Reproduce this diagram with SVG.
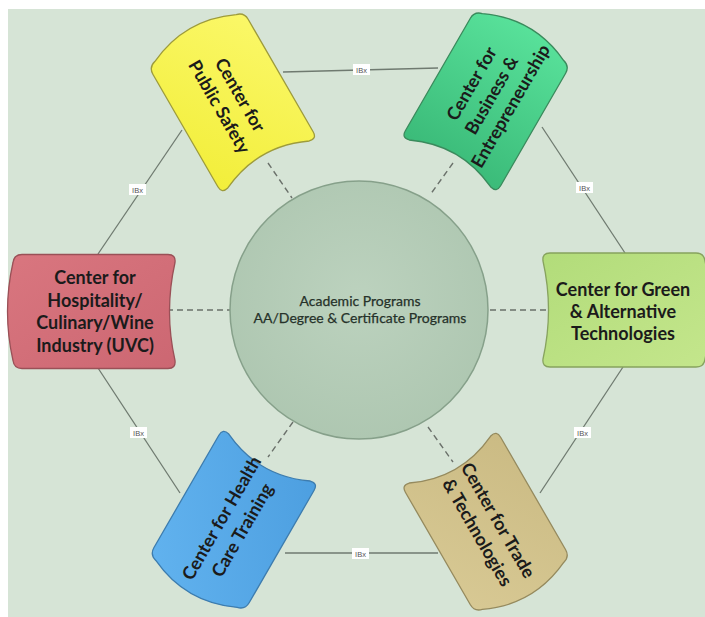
<svg xmlns="http://www.w3.org/2000/svg" width="705" height="617" viewBox="0 0 705 617">
<defs>
<style>
.bg{fill:#d6e4d6}
.lnk{stroke:#6f7a70;stroke-width:1.3;fill:none}
.dsh{stroke:#6a706a;stroke-width:1.4;stroke-dasharray:6 4;fill:none}
.ibx rect{fill:#ffffff;stroke:none}
.ibx text{font-family:"Liberation Sans",Arial,sans-serif;font-size:7.5px;fill:#555;text-anchor:middle}
.nt{font-family:Lato,"Open Sans",sans-serif;font-weight:bold;font-size:18px;fill:#1b1b1b;text-anchor:middle}
.ct{font-family:Lato,"Open Sans",sans-serif;font-size:14px;fill:#26322a;stroke:#26322a;stroke-width:0.25;text-anchor:middle}
.shape{stroke-width:1.3}
</style>
<linearGradient id="gY" x1="0" y1="0" x2="1" y2="1"><stop offset="0" stop-color="#fbf86a"/><stop offset="1" stop-color="#f2ee3a"/></linearGradient>
<linearGradient id="gB" x1="0" y1="0" x2="1" y2="0"><stop offset="0" stop-color="#58e19a"/><stop offset="1" stop-color="#3bbb79"/></linearGradient>
<linearGradient id="gL" x1="0" y1="0" x2="1" y2="1"><stop offset="0" stop-color="#c4e68c"/><stop offset="1" stop-color="#b2dc7a"/></linearGradient>
<linearGradient id="gR" x1="0" y1="0" x2="1" y2="1"><stop offset="0" stop-color="#d9767f"/><stop offset="1" stop-color="#cc6772"/></linearGradient>
<linearGradient id="gT" x1="0" y1="0" x2="1" y2="1"><stop offset="0" stop-color="#d8c994"/><stop offset="1" stop-color="#cbbb84"/></linearGradient>
<linearGradient id="gH" x1="0" y1="0" x2="1" y2="1"><stop offset="0" stop-color="#62b3ef"/><stop offset="1" stop-color="#4d9fe0"/></linearGradient>
<radialGradient id="gC" cx="0.5" cy="0.45" r="0.6"><stop offset="0" stop-color="#bcd2be"/><stop offset="1" stop-color="#adc6b0"/></radialGradient>
<path id="diag" d="M -65,-55 L 65,-55 Q 73,-55 71,-47 Q 49,0 71,47 Q 73,55 65,55 L -65,55 Q -73,55 -75,47 Q -97,0 -75,-47 Q -73,-55 -65,-55 Z"/>
<path id="horiz" d="M -73,-57 L 73,-57 Q 81,-57 80,-49 Q 69,0 80,49 Q 81,57 73,57 L -73,57 Q -81,57 -82,49 Q -93,0 -82,-49 Q -81,-57 -73,-57 Z"/>
</defs>
<rect x="0" y="0" width="705" height="617" fill="#ffffff"/>
<rect class="bg" x="8" y="9" width="697" height="608"/>

<g id="connectors">
<line class="lnk" x1="283" y1="72" x2="438" y2="68"/>
<line class="lnk" x1="542" y1="127" x2="625" y2="253"/>
<line class="lnk" x1="623" y1="367" x2="540" y2="493"/>
<line class="lnk" x1="285" y1="553" x2="438" y2="553"/>
<line class="lnk" x1="180" y1="493" x2="98" y2="368"/>
<line class="lnk" x1="98" y1="254" x2="182" y2="130"/>
<line class="dsh" x1="268" y1="163" x2="292" y2="198"/>
<line class="dsh" x1="453" y1="163" x2="430" y2="195"/>
<line class="dsh" x1="167" y1="310" x2="230" y2="310"/>
<line class="dsh" x1="490" y1="310" x2="553" y2="310"/>
<line class="dsh" x1="293" y1="422" x2="268" y2="457"/>
<line class="dsh" x1="428" y1="427" x2="453" y2="462"/>
<g class="ibx"><rect x="353" y="64" width="17" height="11"/><text x="361.5" y="72.5">IBx</text></g>
<g class="ibx"><rect x="576" y="182" width="17" height="11"/><text x="584.5" y="190.5">IBx</text></g>
<g class="ibx"><rect x="574" y="427" width="17" height="11"/><text x="582.5" y="435.5">IBx</text></g>
<g class="ibx"><rect x="352" y="548" width="17" height="11"/><text x="360.5" y="556.5">IBx</text></g>
<g class="ibx"><rect x="130" y="427" width="17" height="11"/><text x="138.5" y="435.5">IBx</text></g>
<g class="ibx"><rect x="129" y="184" width="17" height="11"/><text x="137.5" y="192.5">IBx</text></g>
</g>

<g id="center">
<circle cx="359" cy="310" r="129" fill="url(#gC)" stroke="#86a08a" stroke-width="1.5"/>
<text class="ct" x="360" y="306">Academic Programs</text>
<text class="ct" x="360" y="323">AA/Degree &amp; Certificate Programs</text>
</g>

<g id="node-public-safety" transform="translate(233,103)">
<use href="#diag" class="shape" transform="rotate(60)" fill="url(#gY)" stroke="#9d9b3c"/>
<g transform="rotate(60)">
<text class="nt" x="-3.5" y="-4">Center for</text>
<text class="nt" x="-3.5" y="20">Public Safety</text>
</g>
</g>

<g id="node-business" transform="translate(485.5,102)">
<use href="#diag" class="shape" transform="rotate(120)" fill="url(#gB)" stroke="#3a8a5c"/>
<g transform="rotate(-60)">
<text class="nt" x="9" y="-15">Center for</text>
<text class="nt" x="9" y="8">Business &amp;</text>
<text class="nt" x="9" y="30">Entrepreneurship</text>
</g>
</g>

<g id="node-green-tech" transform="translate(623,310)">
<use href="#horiz" class="shape" transform="rotate(180)" fill="url(#gL)" stroke="#87a35e"/>
<text class="nt" x="0" y="-14">Center for Green</text>
<text class="nt" x="0" y="8">&amp; Alternative</text>
<text class="nt" x="0" y="30">Technologies</text>
</g>

<g id="node-trade" transform="translate(485.5,521)">
<use href="#diag" class="shape" transform="rotate(240)" fill="url(#gT)" stroke="#958a5e"/>
<g transform="rotate(60)">
<text class="nt" x="5.7" y="-5">Center for Trade</text>
<text class="nt" x="5.7" y="19">&amp; Technologies</text>
</g>
</g>

<g id="node-health" transform="translate(234,519)">
<use href="#diag" class="shape" transform="rotate(300)" fill="url(#gH)" stroke="#3d7cae"/>
<g transform="rotate(-60)">
<text class="nt" x="-5.5" y="-5">Center for Health</text>
<text class="nt" x="-5.5" y="19">Care Training</text>
</g>
</g>

<g id="node-hospitality" transform="translate(95,311.5)">
<use href="#horiz" class="shape" fill="url(#gR)" stroke="#9a5057"/>
<text class="nt" x="0" y="-28">Center for</text>
<text class="nt" x="0" y="-5">Hospitality/</text>
<text class="nt" x="0" y="17.5">Culinary/Wine</text>
<text class="nt" x="0" y="40">Industry (UVC)</text>
</g>
</svg>
